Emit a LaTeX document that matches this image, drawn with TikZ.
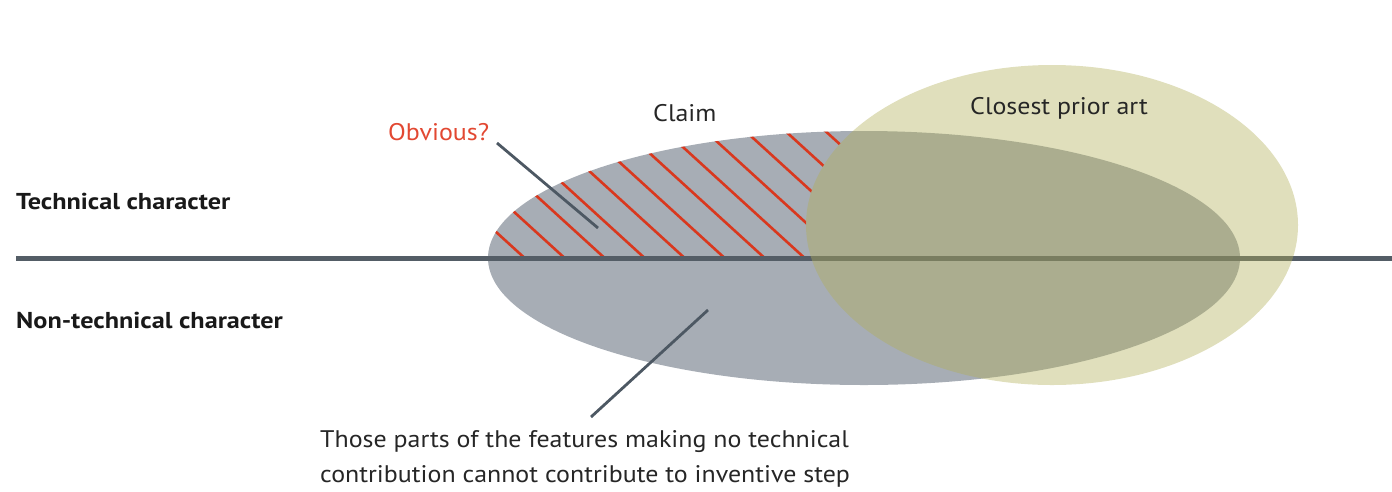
\documentclass[tikz,border=0pt]{standalone}
\usepackage{fontspec}
\setmainfont{PT Sans}
\newfontfamily\lblfont{PT Sans}[FakeStretch=1.08]
\newfontfamily\sidefont{PT Sans}[FakeStretch=1.14]
\usetikzlibrary{shapes.geometric}
\definecolor{claimfill}{RGB}{167,173,181}
\definecolor{priorfill}{RGB}{177,175,87}
\definecolor{axisline}{RGB}{84,93,102}
\definecolor{hatchred}{RGB}{217,56,30}
\definecolor{leadercol}{RGB}{77,88,99}
\definecolor{obvred}{RGB}{226,72,50}
\definecolor{txt}{RGB}{38,38,38}
\tikzset{
  lbl/.style={anchor=base west, inner sep=0pt, text=txt, font=\lblfont\fontsize{24}{35}\selectfont},
  side/.style={anchor=base west, inner sep=0pt, text=black!90, font=\sidefont\fontsize{23}{30}\selectfont\bfseries},
  claimshape/.style={ellipse, inner sep=0pt, minimum width=752pt, minimum height=254pt, fill=claimfill, draw=none},
  priorshape/.style={ellipse, inner sep=0pt, minimum width=492pt, minimum height=320pt, fill=priorfill, fill opacity=0.4, draw=none},
  hatchline/.style={draw=hatchred, line width=2.6pt},
  axisstyle/.style={draw=axisline, line width=5.5pt},
  leader/.style={draw=leadercol, line width=2.8pt}
}
\begin{document}
\begin{tikzpicture}[x=1pt,y=-1pt]
\useasboundingbox (0,0) rectangle (1392,491);
% claim
\node[claimshape] (claim) at (864,258) {};
% hatching
\begin{scope}
  \clip (0,0) rectangle (1392,256);
  \clip (864,258) ellipse [x radius=376pt, y radius=127pt];
  \begin{scope}[even odd rule]
  \clip (-10,-10) rectangle (1400,500) (1052,225) ellipse [x radius=246pt, y radius=160pt];
  \foreach \k in {-2,...,12} {
    \draw[hatchline] ({525+40*\k-200},{258-182}) -- ({525+40*\k+4},{258+4});
  }
  \end{scope}
\end{scope}
% axis
\coordinate (axisL) at (16,258.5);
\coordinate (axisR) at (1392,258.5);
\draw[axisstyle] (axisL) -- (axisR);
% prior art
\node[priorshape] (prior) at (1052,225) {};
% labels
\node[side] (tech) at (16,209) {Technical character};
\node[side] (nontech) at (16,328) {Non-technical character};
\node[lbl] (claimlbl) at (653,121.5) {Claim};
\node[lbl] (priorlbl) at (970,114) {Closest prior art};
\node[lbl, text=obvred] (obv) at (388,140.5) {Obvious?};
\node[lbl] (note1) at (320,447.3) {Those parts of the features making no technical};
\node[lbl] (note2) at (320,482.7) {contribution cannot contribute to inventive step};
% leaders
\coordinate (obvA) at (497,143);
\coordinate (obvB) at (598,228);
\coordinate (noteA) at (591,417);
\coordinate (noteB) at (708,310);
\draw[leader] (obvA) -- (obvB);
\draw[leader] (noteA) -- (noteB);
\end{tikzpicture}
\end{document}
